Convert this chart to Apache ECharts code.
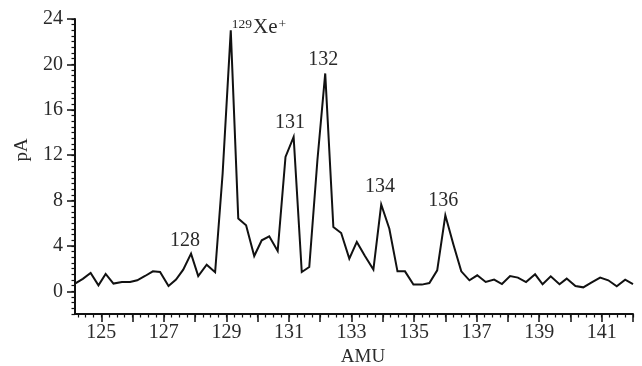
<!DOCTYPE html>
<html><head><meta charset="utf-8">
<script src="https://cdn.jsdelivr.net/npm/echarts@6/dist/echarts.min.js"></script>
<style>html,body{margin:0;padding:0;background:#fff}#c{width:642px;height:366px}</style>
</head><body><div id="c"></div>
<script>
// AMU position of each sample
const amu = [124.16,124.41,124.66,124.91,125.14,125.39,125.66,125.92,126.15,126.40,
  126.65,126.88,127.15,127.39,127.62,127.87,128.10,128.37,128.64,128.88,
  129.14,129.38,129.63,129.89,130.13,130.37,130.64,130.89,131.15,131.41,
  131.65,131.91,132.16,132.42,132.67,132.93,133.17,133.43,133.70,133.95,
  134.21,134.47,134.71,134.98,135.25,135.49,135.74,136.00,136.26,136.51,
  136.77,137.02,137.29,137.56,137.81,138.07,138.32,138.58,138.87,139.11,
  139.37,139.65,139.88,140.16,140.41,140.68,140.95,141.21,141.48,141.75,142.00];
// ion current, pA
const pA = [0.68,1.10,1.61,0.53,1.53,0.68,0.82,0.82,0.97,1.35,
  1.76,1.70,0.47,1.03,1.91,3.32,1.35,2.35,1.68,10.38,
  23.0,6.41,5.82,3.11,4.50,4.85,3.55,11.84,13.61,1.70,
  2.14,11.55,19.20,5.67,5.14,2.88,4.35,3.12,1.91,7.65,
  5.51,1.76,1.76,0.59,0.59,0.73,1.85,6.70,4.10,1.76,
  0.97,1.41,0.82,1.03,0.64,1.35,1.21,0.82,1.50,0.62,
  1.32,0.62,1.12,0.47,0.35,0.79,1.21,0.97,0.44,1.03,0.64];
const xMajorTicks = [125,126,127,128,129,130,131,132,133,134,135,136,137,138,139,140,141,142];
const xTickLabels = [125,127,129,131,133,135,137,139,141];
const yTickLabels = [0,4,8,12,16,20,24];
// peak annotations: index of the sample they sit on and their text
const peakIdx = [15,20,28,32,39,47];
const peakText = ['128','{s|129}{b|Xe}{s|+}','131','132','134','136'];

const xMinorTicks = [];
for (let v = 124.25; v <= 142.001; v += 0.25) xMinorTicks.push(+v.toFixed(2));

const FONT = '"Liberation Serif", "DejaVu Serif", serif';
const TXT = '#2a2a2a';
const INK = '#111';

const labelOffsets = [[-6,-2.6],[0,-2.5],[-3.7,-3.7],[-2,-3.3],[-1.3,-7.6],[-2,-5]];

const chart = echarts.init(document.getElementById('c'), null, {renderer:'canvas'});
chart.setOption({
  animation:false,
  backgroundColor:'#fff',
  grid:{left:75, right:9, top:19, bottom:52, containLabel:false, outerBoundsMode:'none'},
  xAxis:[{
    type:'value', min:124.16, max:142, position:'bottom',
    axisLine:{onZero:false, lineStyle:{color:INK, width:2}},
    axisTick:{show:true, inside:false, length:8, customValues:xMajorTicks, lineStyle:{color:INK, width:1.5}},
    axisLabel:{customValues:xTickLabels, margin:9, color:TXT, fontFamily:FONT, fontSize:20},
    splitLine:{show:false},
    name:'AMU', nameLocation:'middle', nameGap:32,
    nameTextStyle:{color:TXT, fontFamily:FONT, fontSize:19, padding:[0,0,0,18]}
  },{
    type:'value', min:124.16, max:142, position:'bottom',
    axisLine:{show:false, onZero:false},
    axisTick:{show:true, inside:false, length:3.5, customValues:xMinorTicks, lineStyle:{color:INK, width:1.2}},
    axisLabel:{show:false}, splitLine:{show:false}
  }],
  yAxis:[{
    type:'value', min:-2, max:24, interval:2, position:'left',
    axisLine:{show:true, onZero:false, lineStyle:{color:INK, width:2}},
    axisTick:{show:true, inside:false, length:8, customValues:yTickLabels, lineStyle:{color:INK, width:1.5}},
    axisLabel:{customValues:yTickLabels, margin:12, color:TXT, fontFamily:FONT, fontSize:20},
    splitLine:{show:false},
    name:'pA', nameLocation:'middle', nameGap:43, nameRotate:90,
    nameTextStyle:{color:TXT, fontFamily:FONT, fontSize:19, padding:[0,0,0,33]}
  },{
    type:'value', min:-2, max:24, interval:0.5, position:'left',
    axisLine:{show:false, onZero:false},
    axisTick:{show:true, inside:false, length:3.5, lineStyle:{color:INK, width:1.2}},
    axisLabel:{show:false}, splitLine:{show:false}
  }],
  series:[{
    type:'line', xAxisIndex:0, yAxisIndex:0,
    data: amu.map((a,i)=>[a,pA[i]]),
    showSymbol:false, symbol:'none',
    lineStyle:{color:INK, width:2, join:'miter'},
    markPoint:{
      symbol:'circle', symbolSize:0, silent:true,
      data: peakIdx.map((k,j)=>({
        coord:[amu[k], pA[k]],
        label:{
          show:true,
          position: j===1 ? 'right' : 'top',
          distance:0,
          offset: labelOffsets[j],
          formatter: peakText[j],
          color:TXT, fontFamily:FONT, fontSize:20, lineHeight:20,
          rich:{
            s:{fontSize:13.5, lineHeight:20, verticalAlign:'top', color:TXT, fontFamily:FONT, padding:[0,1,8,1]},
            b:{fontSize:21, lineHeight:20, color:TXT, fontFamily:FONT}
          }
        }
      }))
    }
  }]
});
</script>
</body></html>
